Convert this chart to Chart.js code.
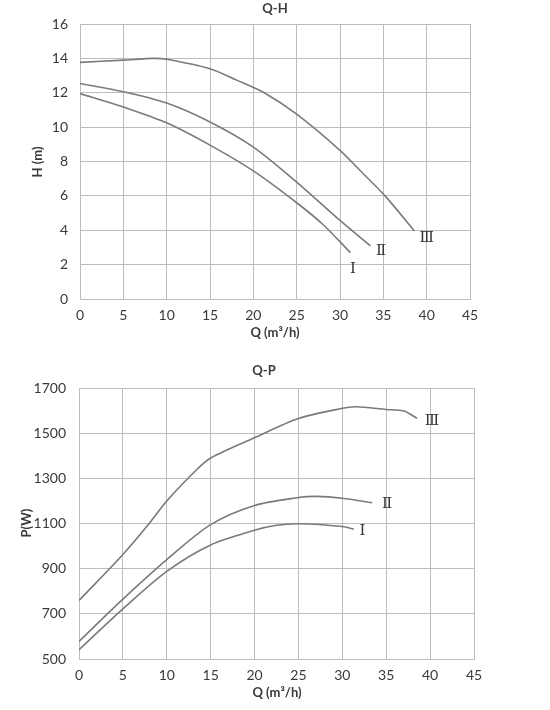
<!DOCTYPE html>
<html>
<head>
<meta charset="utf-8">
<script src="https://cdn.jsdelivr.net/npm/chart.js@4.4.0/dist/chart.umd.min.js"></script>
<style>
  html,body{margin:0;padding:0;background:#fff;}
  #wrap{position:relative;width:550px;height:710px;}
  #c1{position:absolute;left:0;top:0;}
  #c2{position:absolute;left:0;top:360px;}
</style>
</head>
<body>
<div id="wrap">
  <canvas id="c1" width="550" height="350"></canvas>
  <canvas id="c2" width="550" height="350"></canvas>
</div>
<script>
// ---------- Data ----------
// Q-H curves
const qhQ_I   = [0, 5, 10, 15, 20, 25, 28, 31.2];
const qhH_I   = [11.95, 11.17, 10.25, 8.95, 7.45, 5.6, 4.35, 2.7];
const qhQ_II  = [0, 5, 10, 15, 20, 25, 30, 33.5];
const qhH_II  = [12.54, 12.06, 11.4, 10.3, 8.84, 6.8, 4.57, 3.09];
const qhQ_III = [0, 5, 8.5, 10, 15, 18, 21.4, 25, 30, 32.4, 35.2, 38.6];
const qhH_III = [13.77, 13.9, 14.0, 13.95, 13.4, 12.75, 11.96, 10.75, 8.65, 7.43, 6.0, 3.95];

// Q-P curves
const qpQ_I   = [0, 5, 10, 15, 20, 22.5, 25, 30, 31.3];
const qpP_I   = [541, 722, 888, 1005, 1070, 1092, 1099, 1087, 1075];
const qpQ_II  = [0, 5, 10, 15, 20, 25, 27, 30, 33.4];
const qpP_II  = [578, 765, 940, 1095, 1180, 1215, 1220, 1212, 1192];
const qpQ_III = [0, 5, 8, 10, 13.4, 15, 20, 25, 30, 31.5, 35, 37, 38.5];
const qpP_III = [759, 963, 1100, 1200, 1338, 1390, 1480, 1565, 1610, 1617, 1605, 1598, 1566];

// Curve labels (roman numerals) and their anchor points in data units
const curveNames = ['Ⅰ', 'Ⅱ', 'Ⅲ'];
const qhLabelQ = [31.5, 34.75, 40.0];
const qhLabelH = [1.72, 2.79, 3.55];
const qpLabelQ = [32.3, 35.1, 40.2];
const qpLabelP = [1066, 1184, 1554];

// Axis ticks
const qTicks = [0, 5, 10, 15, 20, 25, 30, 35, 40, 45];
const hTicks = [0, 2, 4, 6, 8, 10, 12, 14, 16];
const pTicks = [500, 700, 900, 1100, 1300, 1500, 1700];

// ---------- Helpers ----------
const zip = (xs, ys) => xs.map((x, i) => ({x: x, y: ys[i]}));
const LINE = '#7a7a7a';
const GRID = '#bdbdbd';
const TXT = '#3a3a3a';
const FONT = 'Lato, "Open Sans", sans-serif';

function ds(xs, ys) {
  return {
    data: zip(xs, ys),
    borderColor: LINE,
    borderWidth: 1.6,
    pointRadius: 0,
    fill: false,
    tension: 0.3
  };
}

const textPlugin = {
  id: 'texts',
  afterDraw(chart, args, opts) {
    const ctx = chart.ctx;
    ctx.save();
    ctx.fillStyle = TXT;
    ctx.textAlign = 'center';
    ctx.textBaseline = 'middle';
    ctx.font = 'bold 13px ' + FONT;
    ctx.fillText(opts.title, opts.titleX, opts.titleY);
    ctx.fillText(opts.xTitle, opts.xTitleX, opts.xTitleY);
    ctx.save();
    ctx.translate(opts.yTitleX, opts.yTitleY);
    ctx.rotate(-Math.PI / 2);
    ctx.fillText(opts.yTitle, 0, 0);
    ctx.restore();
    ctx.font = '15px "DejaVu Serif", "Liberation Serif", serif';
    ctx.fillStyle = '#333';
    const xs = chart.scales.x, ys = chart.scales.y;
    opts.labels.forEach(l => {
      ctx.fillText(l.t, xs.getPixelForValue(l.x), ys.getPixelForValue(l.y));
    });
    ctx.restore();
  }
};

function makeChart(canvas, datasets, yMin, yMax, yTickList, cfg) {
  return new Chart(canvas, {
    type: 'line',
    data: {datasets: datasets},
    plugins: [textPlugin],
    options: {
      responsive: false,
      animation: false,
      devicePixelRatio: 1,
      layout: {padding: {top: cfg.top, right: cfg.right, left: 0, bottom: 0}},
      plugins: {
        legend: {display: false},
        tooltip: {enabled: false},
        texts: cfg.texts
      },
      scales: {
        x: {
          type: 'linear',
          min: 0, max: 45,
          afterBuildTicks: s => { s.ticks = qTicks.map(v => ({value: v})); },
          grid: {color: GRID, drawTicks: false, lineWidth: 1},
          border: {color: GRID},
          ticks: {color: TXT, font: {family: FONT, size: 14}, padding: 8, maxRotation: 0,
                  callback: v => String(v)},
          afterFit: s => { s.height = cfg.xH; }
        },
        y: {
          type: 'linear',
          min: yMin, max: yMax,
          afterBuildTicks: s => { s.ticks = yTickList.map(v => ({value: v})); },
          grid: {color: GRID, drawTicks: false, lineWidth: 1},
          border: {color: GRID},
          ticks: {color: TXT, font: {family: FONT, size: 14}, padding: cfg.yPad,
                  callback: v => String(v)},
          afterFit: s => { s.width = cfg.yW; }
        }
      }
    }
  });
}

makeChart(document.getElementById('c1'),
  [ds(qhQ_I, qhH_I), ds(qhQ_II, qhH_II), ds(qhQ_III, qhH_III)],
  0, 16, hTicks,
  {
    top: 24, right: 80, xH: 51, yW: 80, yPad: 12,
    texts: {
      title: 'Q-H', titleX: 275, titleY: 9,
      xTitle: 'Q (m³/h)', xTitleX: 275, xTitleY: 333,
      yTitle: 'H (m)', yTitleX: 38, yTitleY: 162,
      labels: curveNames.map((t, i) => ({t: t, x: qhLabelQ[i], y: qhLabelH[i]}))
    }
  });

makeChart(document.getElementById('c2'),
  [ds(qpQ_I, qpP_I), ds(qpQ_II, qpP_II), ds(qpQ_III, qpP_III)],
  500, 1700, pTicks,
  {
    top: 28, right: 76, xH: 51, yW: 79, yPad: 13,
    texts: {
      title: 'Q-P', titleX: 264, titleY: 11,
      xTitle: 'Q (m³/h)', xTitleX: 277, xTitleY: 333,
      yTitle: 'P(W)', yTitleX: 27, yTitleY: 163,
      labels: curveNames.map((t, i) => ({t: t, x: qpLabelQ[i], y: qpLabelP[i]}))
    }
  });
</script>
</body>
</html>
